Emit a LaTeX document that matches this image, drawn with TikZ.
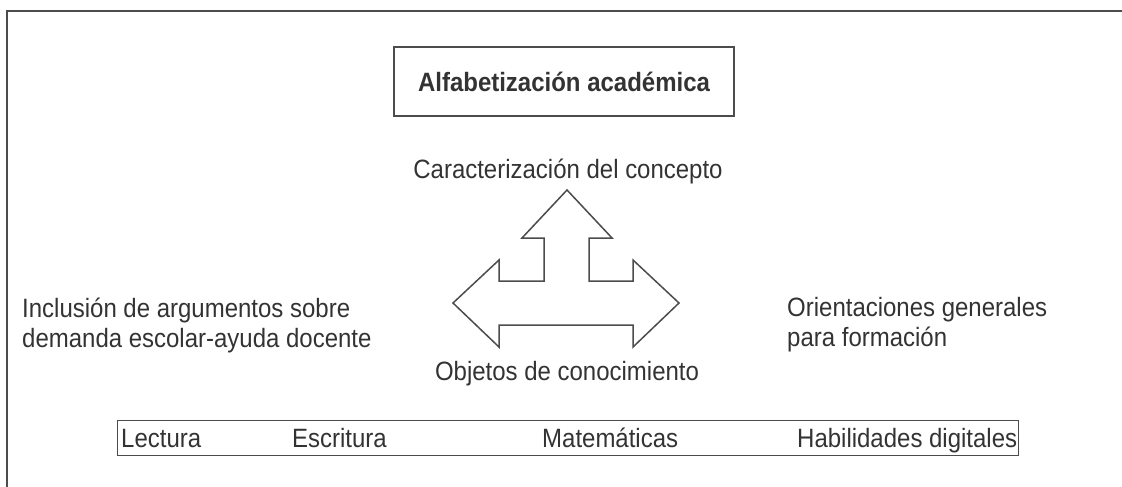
\documentclass[tikz,border=0pt]{standalone}
\usepackage{fontspec}
\setmainfont{Liberation Sans}[FakeStretch=0.905]
\begin{document}
\begin{tikzpicture}[x=1pt,y=-1pt,
  texto/.style={font=\fontsize{26.5}{30}\selectfont,text=black!80,inner sep=0pt},
  linea/.style={line width=1.5pt,draw=black!70}]
\useasboundingbox (0,0) rectangle (1122,487);
% marco exterior
\draw[linea] (7,487) -- (7,11) -- (1122,11);
\node [draw,linea,texto,font=\fontsize{26.5}{30}\selectfont\bfseries,minimum width=340pt,minimum height=69pt,name=titulo] at (564,81.5) {Alfabetización académica};
\node [texto,anchor=base,name=caract] at (568,178) {Caracterización del concepto};
% flecha de tres puntas
\draw[linea,line join=miter,fill=white] (567,190) -- (612,238) -- (589,238) -- (589,281) -- (633,281) -- (633,260)
  -- (679,303) -- (633,347) -- (633,325) -- (499,325) -- (499,347) -- (453,303) -- (499,260)
  -- (499,281) -- (544,281) -- (544,238) -- (522,238) -- cycle;
\node [texto,anchor=base,name=objetos] at (567,380) {Objetos de conocimiento};
\node [texto,anchor=base west,align=left,name=inclusion] at (22,347) {Inclusión de argumentos sobre\\demanda escolar-ayuda docente};
\node [texto,anchor=base west,align=left,name=orient] at (787,346) {Orientaciones generales\\para formación};
% fila inferior
\node [draw,linea,minimum width=901pt,minimum height=35pt,inner sep=0pt,name=fila] at (568,438) {};
\node [texto,anchor=base west,name=lectura] at (121,447) {Lectura};
\node [texto,anchor=base west,name=escritura] at (292,447) {Escritura};
\node [texto,anchor=base west,name=mate] at (542,447) {Matemáticas};
\node [texto,anchor=base west,name=habil] at (797,447) {Habilidades digitales};
\end{tikzpicture}
\end{document}
